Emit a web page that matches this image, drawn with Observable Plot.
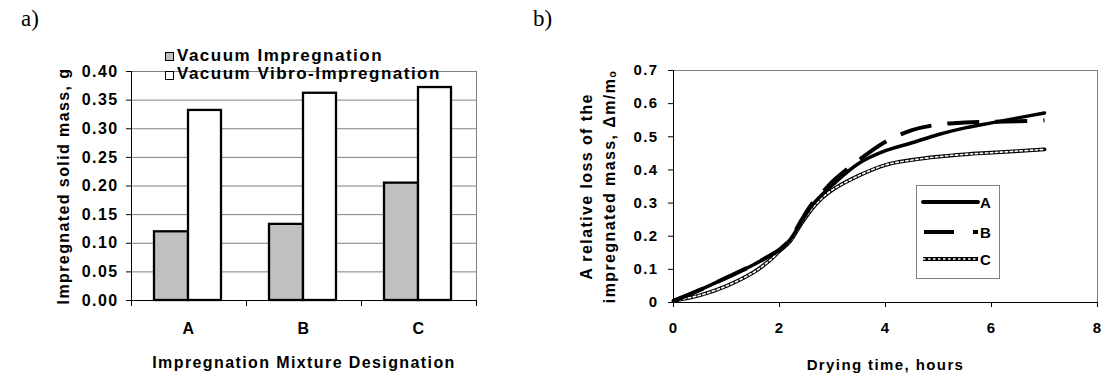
<!DOCTYPE html>
<html>
<head>
<meta charset="utf-8">
<script src="https://cdn.jsdelivr.net/npm/d3@7"></script>
<script src="https://cdn.jsdelivr.net/npm/@observablehq/plot@0.6"></script>
<style>
  html, body { margin: 0; padding: 0; background: white; }
  body { width: 1102px; height: 376px; position: relative; overflow: hidden; font-family: "Liberation Sans", Arial, sans-serif; }
  .abs { position: absolute; }
  .panel { position: absolute; font-family: "Liberation Serif", "Times New Roman", serif; font-size: 23px; line-height: 23px; color: black; }
  .leg { position: absolute; font-weight: bold; font-size: 17px; line-height: 18px; letter-spacing: 1.5px; white-space: nowrap; color: black; }
  .sw { position: absolute; width: 7px; height: 7px; border: 1.5px solid black; }
</style>
</head>
<body>
<div id="left" class="abs" style="left:0;top:0"></div>
<div id="right" class="abs" style="left:500px;top:0"></div>
<div class="panel" style="left:21px;top:7px">a)</div>
<div class="panel" style="left:533px;top:7px">b)</div>
<div id="legendLeft"></div>
<div id="legendRight" class="abs" style="left:916px;top:185px;width:82px;height:92px;border:1px solid #808080;background:white"></div>
<script>
// ---- Data: chart a) ----
const categories = ["A", "B", "C"];
const seriesNames = ["Vacuum Impregnation", "Vacuum Vibro-Impregnation"];
const vacuumImpregnation = [0.12, 0.133, 0.205];
const vacuumVibroImpregnation = [0.332, 0.362, 0.372];
const leftYTicks = [0, 0.05, 0.1, 0.15, 0.2, 0.25, 0.3, 0.35, 0.4];
const leftYTitle = "Impregnated solid mass, g";
const leftXTitle = "Impregnation Mixture Designation";

// ---- Data: chart b) ----
const curveNames = ["A", "B", "C"];
const dryingTime = [0, 0.5, 1, 1.5, 1.8, 2, 2.2, 2.4, 2.6, 2.8, 3, 3.5, 4, 4.5, 5, 5.5, 6, 6.5, 7];
const lossA = [0.005, 0.038, 0.075, 0.113, 0.14, 0.158, 0.19, 0.24, 0.29, 0.325, 0.355, 0.42, 0.458, 0.482, 0.507, 0.527, 0.542, 0.557, 0.572];
const lossB = [0.005, 0.038, 0.075, 0.113, 0.14, 0.16, 0.19, 0.245, 0.295, 0.33, 0.365, 0.43, 0.485, 0.52, 0.537, 0.543, 0.545, 0.547, 0.55];
const lossC = [0.005, 0.022, 0.05, 0.09, 0.125, 0.155, 0.185, 0.235, 0.28, 0.315, 0.34, 0.383, 0.415, 0.43, 0.44, 0.447, 0.452, 0.457, 0.462];
const rightYTicks = [0, 0.1, 0.2, 0.3, 0.4, 0.5, 0.6, 0.7];
const rightXTicks = [0, 2, 4, 6, 8];
const rightYTitle = "A relative loss of the\nimpregnated mass, \u0394m/m\u2092";
const rightXTitle = "Drying time, hours";

// ---- Build tables ----
const bars = categories.flatMap((c, i) => [
  {cat: c, series: seriesNames[0], value: vacuumImpregnation[i]},
  {cat: c, series: seriesNames[1], value: vacuumVibroImpregnation[i]}
]);
const lossSeries = {A: lossA, B: lossB, C: lossC};
const curves = Object.fromEntries(curveNames.map(n => [n, dryingTime.map((t, i) => ({t, v: lossSeries[n][i], name: n}))]));

const baseStyle = {
  fontFamily: "'Liberation Sans', Arial, sans-serif",
  fontSize: "16px",
  fontWeight: "bold",
  letterSpacing: "1.4px",
  color: "black",
  background: "transparent",
  overflow: "visible"
};

// ---- Chart a) ----
const left = Plot.plot({
  width: 490, height: 376,
  marginLeft: 131, marginRight: 14, marginTop: 71, marginBottom: 76,
  style: baseStyle,
  x: {domain: categories, padding: 0, axis: null, label: null},
  y: {domain: [0, 0.4], axis: null, label: null},
  marks: [
    Plot.gridY(leftYTicks.slice(1), {stroke: "#808080", strokeOpacity: 1, strokeWidth: 1}),
    Plot.frame({anchor: "right", stroke: "#808080"}),
    Plot.barY(bars.filter(d => d.series === seriesNames[0]), {x: "cat", y: "value", fill: "#c0c0c0", stroke: "black", strokeWidth: 2.3, insetLeft: 23, insetRight: 58}),
    Plot.barY(bars.filter(d => d.series === seriesNames[1]), {x: "cat", y: "value", fill: "white", stroke: "black", strokeWidth: 2.3, insetLeft: 57, insetRight: 25}),
    Plot.ruleY([0], {stroke: "black"}),
    Plot.frame({anchor: "left", stroke: "black"}),
    Plot.axisY(leftYTicks, {tickFormat: d3.format(".2f"), tickSize: 5, tickPadding: 8, stroke: "black", label: null}),
    Plot.axisX(categories, {tickSize: 0, tickPadding: 22, label: null}),
    Plot.axisX(categories, {tickSize: 6, tickFormat: () => "", dx: -57.5, stroke: "black", label: null}),
    Plot.axisX(["C"], {tickSize: 6, tickFormat: () => "", dx: 57.5, stroke: "black", label: null}),
    Plot.text([leftYTitle], {frameAnchor: "left", rotate: -90, dx: -68, textAnchor: "middle", lineAnchor: "middle"}),
    Plot.text([leftXTitle], {frameAnchor: "bottom", dy: 62, textAnchor: "middle", lineAnchor: "middle"})
  ]
});
document.getElementById("left").appendChild(left);

// ---- Chart b) ----
const right = Plot.plot({
  width: 602, height: 376,
  marginLeft: 173, marginRight: 5, marginTop: 70, marginBottom: 74,
  style: {...baseStyle, fontSize: "15px"},
  x: {domain: [0, 8], axis: null, label: null},
  y: {domain: [0, 0.7], axis: null, label: null},
  marks: [
    Plot.frame({stroke: "#808080"}),
    Plot.ruleX([0], {stroke: "black"}),
    Plot.ruleY([0], {stroke: "black"}),
    Plot.axisY(rightYTicks, {tickSize: 5, tickPadding: 10, tickFormat: d => String(d), stroke: "black", label: null}),
    Plot.axisX(rightXTicks, {tickSize: 5, tickPadding: 15, tickFormat: d => String(d), stroke: "black", label: null}),
    Plot.line(curves.C, {x: "t", y: "v", curve: "catmull-rom", stroke: "black", strokeWidth: 3.8}),
    Plot.line(curves.C, {x: "t", y: "v", curve: "catmull-rom", stroke: "white", strokeWidth: 1.6, strokeDasharray: "2.5,2.5"}),
    Plot.line(curves.A, {x: "t", y: "v", curve: "catmull-rom", stroke: "black", strokeWidth: 3.5}),
    Plot.line(curves.B, {x: "t", y: "v", curve: "catmull-rom", stroke: "black", strokeWidth: 4, strokeDasharray: "32,16", strokeLinecap: "butt"}),
    Plot.text([rightYTitle], {frameAnchor: "left", rotate: -90, dx: -77, textAnchor: "middle", lineAnchor: "middle", lineHeight: 1.4, fontSize: 16}),
    Plot.text([rightXTitle], {frameAnchor: "bottom", dy: 63, textAnchor: "middle", lineAnchor: "middle"})
  ]
});
document.getElementById("right").appendChild(right);

// ---- Legend a) ----
const legL = document.getElementById("legendLeft");
const legFills = ["#c0c0c0", "white"];
seriesNames.forEach((name, i) => {
  const sw = document.createElement("div");
  sw.className = "sw";
  sw.style.left = "165px";
  sw.style.top = (52 + i * 18.5) + "px";
  sw.style.background = legFills[i];
  legL.appendChild(sw);
  const t = document.createElement("div");
  t.className = "leg";
  t.style.left = "177px";
  t.style.top = (47 + i * 18) + "px";
  t.textContent = name;
  legL.appendChild(t);
});

// ---- Legend b) ----
const NS = "http://www.w3.org/2000/svg";
const legR = document.getElementById("legendRight");
const svg = document.createElementNS(NS, "svg");
svg.setAttribute("width", 82);
svg.setAttribute("height", 92);
svg.style.fontFamily = "'Liberation Sans', Arial, sans-serif";
svg.style.fontWeight = "bold";
svg.style.fontSize = "15px";
const rowY = [16, 46, 73];
curveNames.forEach((name, i) => {
  const y = rowY[i];
  const mk = (attrs) => {
    const l = document.createElementNS(NS, "line");
    for (const k in attrs) l.setAttribute(k, attrs[k]);
    svg.appendChild(l);
  };
  if (i === 0) mk({x1: 6, x2: 61, y1: y, y2: y, stroke: "black", "stroke-width": 4, "stroke-linecap": "round"});
  if (i === 1) mk({x1: 7, x2: 61, y1: y, y2: y, stroke: "black", "stroke-width": 4, "stroke-dasharray": "30,19,5,40"});
  if (i === 2) {
    mk({x1: 6, x2: 61, y1: y, y2: y, stroke: "black", "stroke-width": 3.8});
    mk({x1: 6, x2: 61, y1: y, y2: y, stroke: "white", "stroke-width": 1.6, "stroke-dasharray": "2.5,2.5"});
  }
  const t = document.createElementNS(NS, "text");
  t.setAttribute("x", 63);
  t.setAttribute("y", y + 5.5);
  t.textContent = name;
  svg.appendChild(t);
});
legR.appendChild(svg);
</script>
</body>
</html>
